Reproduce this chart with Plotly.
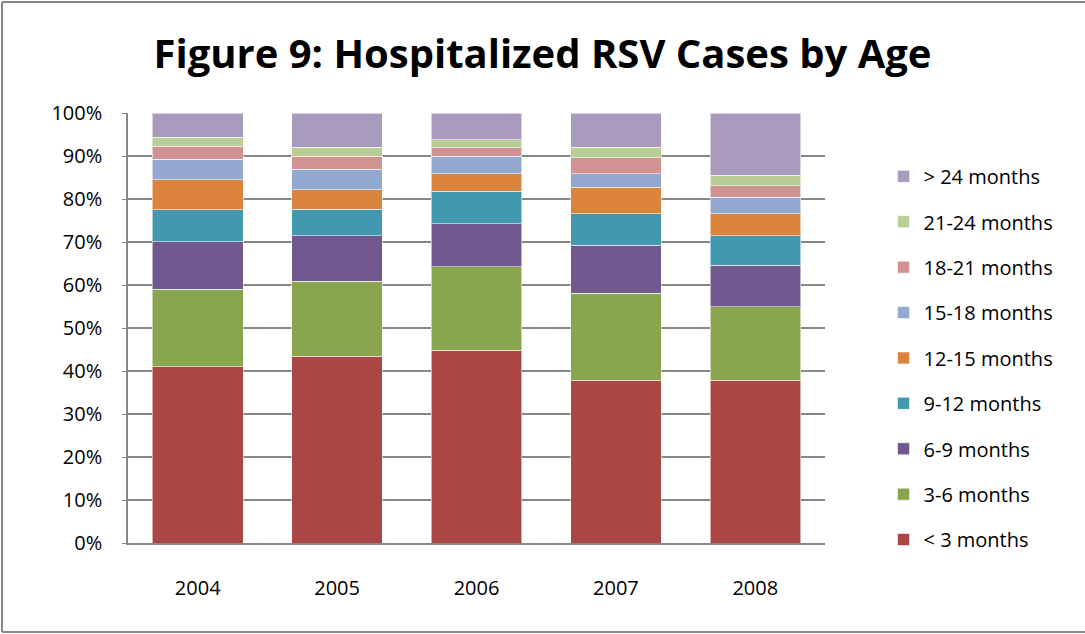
import plotly.graph_objects as go

# share of hospitalized RSV cases per age band (percent)
years = ['2004', '2005', '2006', '2007', '2008']
lt_3 = [41.0, 43.4, 44.8, 37.8, 37.8]
m3_6 = [18.1, 17.5, 19.4, 20.3, 17.1]
m6_9 = [11.0, 10.5, 10.1, 11.1, 9.7]
m9_12 = [7.5, 6.2, 7.5, 7.4, 6.8]
m12_15 = [7.0, 4.6, 4.1, 6.1, 5.2]
m15_18 = [4.7, 4.7, 4.1, 3.2, 3.8]
m18_21 = [3.1, 3.1, 1.9, 3.7, 2.7]
m21_24 = [2.0, 2.0, 1.9, 2.4, 2.4]
gt_24 = [5.7, 8.0, 6.2, 8.0, 14.5]

series = [
    ('< 3 months', lt_3, '#AA4643'),
    ('3-6 months', m3_6, '#89A54E'),
    ('6-9 months', m6_9, '#71588F'),
    ('9-12 months', m9_12, '#4198AF'),
    ('12-15 months', m12_15, '#DB843D'),
    ('15-18 months', m15_18, '#93A9CF'),
    ('18-21 months', m18_21, '#D19392'),
    ('21-24 months', m21_24, '#B9CD96'),
    ('> 24 months', gt_24, '#A99BBD'),
]

FONT = 'Open Sans'

fig = go.Figure()
for i, (name, vals, colour) in enumerate(series):
    fig.add_trace(go.Bar(
        x=years, y=vals, name=name, legendgroup=name,
        legendrank=100 - i,  # top band listed first, like Excel does
        marker={'color': colour, 'line': {'color': 'rgba(255,255,255,0.55)', 'width': 1}},
    ))

fig.update_layout(
    barmode='stack',
    barnorm='percent',
    bargap=0.35,
    width=1085, height=634,
    margin={'l': 128, 'r': 260, 't': 113, 'b': 91},
    paper_bgcolor='white',
    plot_bgcolor='white',
    font={'family': FONT, 'size': 20, 'color': '#000000'},
    title={'text': '<b>Figure 9: Hospitalized RSV Cases by Age</b>',
           'x': 0.5, 'xanchor': 'center', 'y': 0.915, 'yanchor': 'middle',
           'font': {'family': FONT, 'size': 40, 'color': '#000000'}},
    legend={'x': 1.084, 'xanchor': 'left', 'y': 0.898, 'yanchor': 'top',
            'traceorder': 'grouped', 'tracegroupgap': 16.4,
            'font': {'family': FONT, 'size': 20}, 'itemwidth': 30},
)

fig.update_yaxes(
    range=[0, 100], dtick=10, ticksuffix='%',
    showgrid=True, gridcolor='#878787', gridwidth=1.5,
    showline=True, linecolor='#878787', linewidth=1.5,
    ticks='outside', ticklen=4, tickcolor='#878787',
    ticklabelstandoff=16,
)
fig.update_xaxes(
    showline=True, linecolor='#878787', linewidth=1.5,
    ticks='', ticklabelstandoff=26,
)

# grey frame around the chart area (its right edge falls outside the picture)
frame = {'color': '#878787', 'width': 2}
x_left, x_right = (2 - 128) / 697, (1085 - 128) / 697
y_bottom, y_top = (543 - 632) / 430, (543 - 2) / 430
fig.add_shape(type='line', xref='paper', yref='paper', x0=x_left, x1=x_left, y0=y_bottom, y1=y_top, line=frame)
fig.add_shape(type='line', xref='paper', yref='paper', x0=x_left, x1=x_right, y0=y_top, y1=y_top, line=frame)
fig.add_shape(type='line', xref='paper', yref='paper', x0=x_left, x1=x_right, y0=y_bottom, y1=y_bottom, line=frame)

# drop the browser's default body margin so the chart sits at the page corner
fig.write_html('out.html', config={'displayModeBar': False},
               post_script="document.body.style.margin='0';")
